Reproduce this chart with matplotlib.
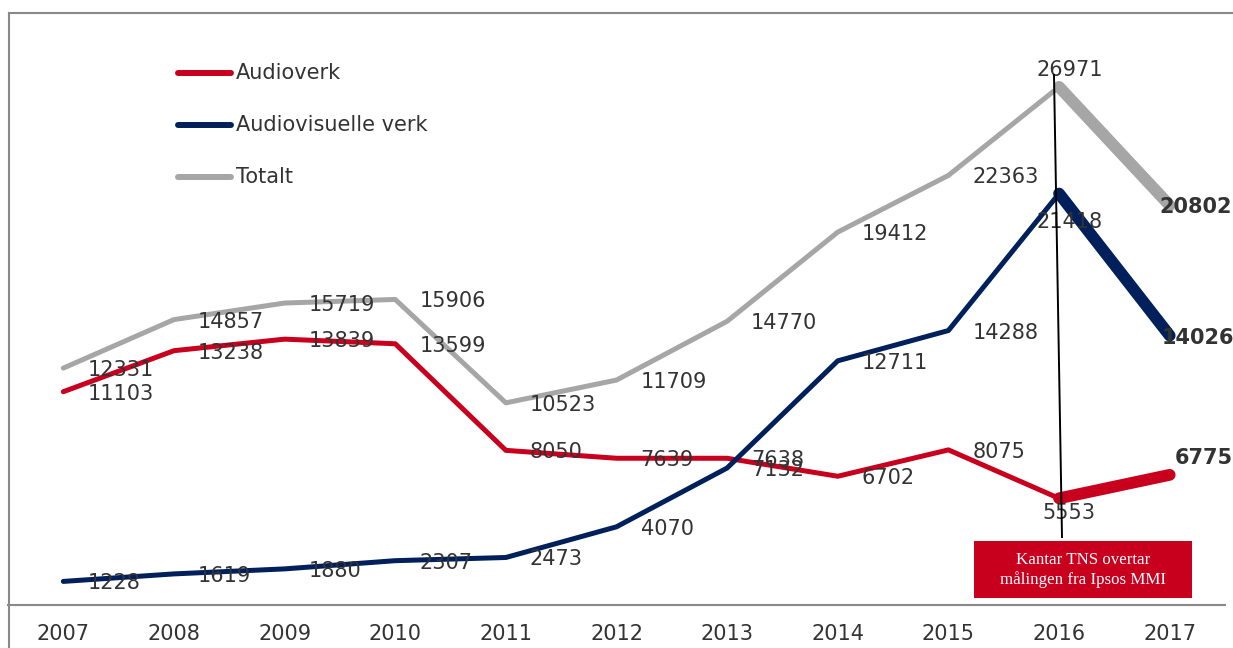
import matplotlib
matplotlib.use("Agg")
import matplotlib.pyplot as plt
from matplotlib.lines import Line2D
from matplotlib.patches import Rectangle

years = ["2007", "2008", "2009", "2010", "2011", "2012", "2013", "2014", "2015", "2016", "2017"]
audioverk = [11103, 13238, 13839, 13599, 8050, 7639, 7638, 6702, 8075, 5553, 6775]
audiovisuelle = [1228, 1619, 1880, 2307, 2473, 4070, 7132, 12711, 14288, 21418, 14026]
totalt = [12331, 14857, 15719, 15906, 10523, 11709, 14770, 19412, 22363, 26971, 20802]

series_names = ["Audioverk", "Audiovisuelle verk", "Totalt"]
colors = ["#C8001E", "#00205B", "#A6A6A6"]
note = "Kantar TNS overtar\nmålingen fra Ipsos MMI"

W, H = 1233, 648
TXT = "#333333"
plt.rcParams["font.family"] = ["DejaVu Sans"]

fig = plt.figure(figsize=(W / 100, H / 100), dpi=100)
ax = fig.add_axes([8 / W, (H - 605) / H, (1225 - 8) / W, (605 - 13) / H])

x = list(range(len(years)))
all_series = [audioverk, audiovisuelle, totalt]

# label offsets in pixels (dx, dy, ha); default is right of point
def offset(si, i):
    if i == 9:
        if si == 2:
            return (11, 17, "center")
        if si == 1:
            return (11, -28, "center")
        return (10, -15, "center")
    if i == 10:
        return [(5, 17, "left"), (-8, -2, "left"), (-10, -2, "left")][si]
    return (24, -2, "left")

for si in [2, 0, 1]:
    vals = all_series[si]
    c = colors[si]
    ax.plot(x[:10], vals[:10], color=c, lw=3.6, solid_capstyle="round",
            solid_joinstyle="round", zorder=2)
    ax.plot(x[9:], vals[9:], color=c, lw=8.5, solid_capstyle="round",
            solid_joinstyle="round", zorder=2)

for si, vals in enumerate(all_series):
    for i, v in enumerate(vals):
        dx, dy, ha = offset(si, i)
        ax.annotate(str(v), (i, v), xytext=(dx, dy), textcoords="offset pixels",
                    ha=ha, va="center", fontsize=15, color=TXT,
                    fontweight="bold" if i == 10 else "normal", zorder=3,
                    annotation_clip=False)

ax.set_xlim(-0.5, len(years) - 0.5)
ax.set_ylim(0, 592 / 0.01921)
ax.set_xticks(x)
ax.set_xticklabels(years, fontsize=15, color=TXT)
ax.tick_params(axis="x", length=0, pad=14)
ax.set_yticks([])
for s in ["left", "top", "right"]:
    ax.spines[s].set_visible(False)
ax.spines["bottom"].set_color("#888888")
ax.spines["bottom"].set_linewidth(1.5)

# outer frame
fig.add_artist(Line2D([9 / W, 9 / W], [0, 1 - 13 / H], color="#888888", lw=1.5))
fig.add_artist(Line2D([9 / W, 1], [1 - 13 / H, 1 - 13 / H], color="#888888", lw=1.5))

# legend
for k, name in enumerate(series_names):
    yy = 1 - (73 + 52 * k) / H
    fig.add_artist(Line2D([178 / W, 231 / W], [yy, yy], color=colors[k], lw=4.3,
                          solid_capstyle="round"))
    fig.text(236 / W, yy, name, fontsize=15, color=TXT, va="center", ha="left")

# marker line and note box
fig.add_artist(Line2D([1054 / W, 1062 / W], [1 - 75 / H, 1 - 537 / H], color="black", lw=1.4))
fig.add_artist(Rectangle((974 / W, 1 - 598 / H), (1192 - 974) / W, (598 - 541) / H,
                         transform=fig.transFigure, facecolor="#C8001E", edgecolor="none"))
fig.text(1083 / W, 1 - 570 / H, note, fontsize=12.2, color="white", ha="center",
         va="center", family="Liberation Serif", linespacing=1.2)

fig.savefig("out.png", dpi=100)
